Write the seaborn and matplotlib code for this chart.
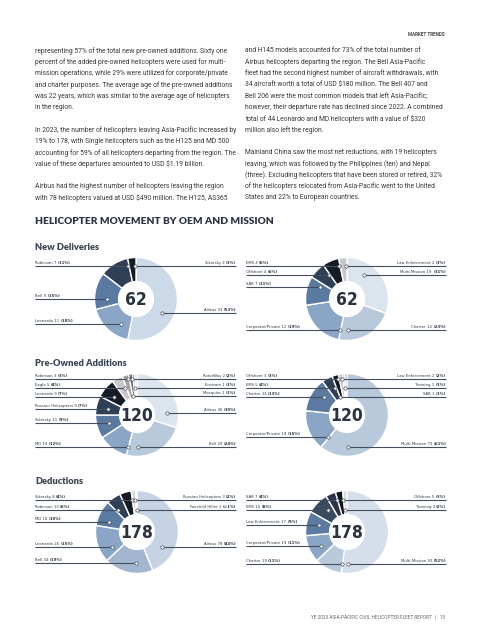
import numpy as np
import matplotlib
matplotlib.use("Agg")
import matplotlib.pyplot as plt
from matplotlib import font_manager
from matplotlib.font_manager import FontProperties
import seaborn as sns

# ---------------- data ----------------
nd_oem_cats = ["Airbus", "Leonardo", "Bell", "Robinson", "Sikorsky"]
nd_oem_vals = [33, 11, 9, 7, 2]
nd_oem_pct = ["53%", "18%", "15%", "11%", "3%"]

nd_mis_cats = ["Multi-Mission", "Charter", "Corporate/Private", "SAR", "Offshore", "EMS", "Law Enforcement"]
nd_mis_vals = [19, 14, 12, 7, 4, 4, 2]
nd_mis_pct = ["31%", "23%", "19%", "11%", "6%", "6%", "3%"]

po_oem_cats = ["Airbus", "Bell", "MD", "Sikorsky", "Russian Helicopters", "Leonardo", "Eagle",
               "Robinson", "RotorWay", "Enstrom", "Mosquito"]
po_oem_vals = [36, 29, 14, 11, 9, 9, 5, 3, 2, 1, 1]
po_oem_pct = ["30%", "24%", "12%", "9%", "7%", "7%", "4%", "3%", "2%", "1%", "1%"]

po_mis_cats = ["Multi-Mission", "Corporate/Private", "Charter", "EMS", "Offshore", "Law Enforcement", "Training", "SAR"]
po_mis_vals = [73, 19, 16, 5, 3, 2, 1, 1]
po_mis_pct = ["61%", "16%", "13%", "4%", "3%", "2%", "1%", "1%"]

de_oem_cats = ["Airbus", "Bell", "Leonardo", "MD", "Robinson", "Sikorsky", "Russian Helicopters", "Fairchild Hiller"]
de_oem_vals = [78, 34, 26, 18, 10, 8, 3, 1]
de_oem_pct = ["44%", "19%", "15%", "10%", "6%", "4%", "2%", "<1%"]

de_mis_cats = ["Multi-Mission", "Charter", "Corporate/Private", "Law Enforcement", "EMS", "SAR", "Offshore", "Training"]
de_mis_vals = [93, 19, 19, 17, 15, 7, 5, 3]
de_mis_pct = ["52%", "11%", "11%", "9%", "8%", "4%", "3%", "2%"]

left_par = [
    "representing 57% of the total new pre-owned additions. Sixty one",
    "percent of the added pre-owned helicopters were used for multi-",
    "mission operations, while 29% were utilized for corporate/private",
    "and charter purposes. The average age of the pre-owned additions",
    "was 22 years, which was similar to the average age of helicopters",
    "in the region.",
    "",
    "In 2023, the number of helicopters leaving Asia-Pacific increased by",
    "19% to 178, with Single helicopters such as the H125 and MD 500",
    "accounting for 59% of all helicopters departing from the region. The",
    "value of these departures amounted to USD $1.19 billion.",
    "",
    "Airbus had the highest number of helicopters leaving the region",
    "with 78 helicopters valued at USD $490 million. The H125, AS365",
]
right_par = [
    "and H145 models accounted for 73% of the total number of",
    "Airbus helicopters departing the region. The Bell Asia-Pacific",
    "fleet had the second highest number of aircraft withdrawals, with",
    "34 aircraft worth a total of USD $180 million. The Bell 407 and",
    "Bell 206 were the most common models that left Asia-Pacific;",
    "however, their departure rate has declined since 2022. A combined",
    "total of 44 Leonardo and MD helicopters with a value of $320",
    "million also left the region.",
    "",
    "Mainland China saw the most net reductions, with 19 helicopters",
    "leaving, which was followed by the Philippines (ten) and Nepal",
    "(three). Excluding helicopters that have been stored or retired, 32%",
    "of the helicopters relocated from Asia-Pacific went to the United",
    "States and 22% to European countries.",
]

# ---------------- style / layout ----------------
sns.set_theme(style="white")
BODY = "Roboto"
HEAD = "Lato"
plt.rcParams["font.family"] = [BODY, "DejaVu Sans"]


def find_condensed(bold=False):
    best = None
    for f in font_manager.fontManager.ttflist:
        nm = f.name.lower()
        fn = f.fname.lower()
        st = str(f.stretch).lower()
        narrow = ("narrow" in nm) or ("condensed" in nm) or ("condensed" in st) or ("narrow" in fn) \
            or ("condensed" in fn)
        if not narrow or f.style != "normal":
            continue
        if "oblique" in fn or "italic" in fn:
            continue
        w = f.weight if isinstance(f.weight, int) else (700 if "bold" in str(f.weight) else 400)
        if bold != (w >= 600):
            continue
        pri = 0 if "liberation" in nm else (1 if "dejavu" in nm else 2)
        if best is None or pri < best[0]:
            best = (pri, f.fname)
    if best is None:
        return FontProperties(family=BODY, weight="bold" if bold else "normal")
    return FontProperties(fname=best[1])


COND = find_condensed(False)
COND_B = find_condensed(True)

B = ["#dce4ee", "#b9c9dc", "#8aa5c5", "#5a7aa2", "#2f3f56", "#151c26"]
charts = [
    dict(cats=nd_oem_cats, vals=nd_oem_vals, pct=nd_oem_pct, c=(136, 299),
         colors=["#ccd9e8", B[2], B[3], B[4], B[5]],
         side="RLLLR", ly=[313, 324, 299, 266, 266], lx=(35, 236)),
    dict(cats=nd_mis_cats, vals=nd_mis_vals, pct=nd_mis_pct, c=(347, 299),
         colors=B + ["#c8c8c8"],
         side="RRLLLLR", ly=[275, 330, 330, 287, 275, 266, 266], lx=(246, 446)),
    dict(cats=po_oem_cats, vals=po_oem_vals, pct=po_oem_pct, c=(137, 415),
         colors=B + ["#c8c8c8", "#a3a3a3", "#707070", "#505050", "#bdbdbd"],
         side="RRLLLLLLRRR", ly=[413, 447, 447, 423, 409, 397, 388, 379, 379, 388, 396], lx=(35, 236)),
    dict(cats=po_mis_cats, vals=po_mis_vals, pct=po_mis_pct, c=(347, 415),
         colors=B[1:] + ["#c8c8c8", "#9c9c9c", "#6b6b6b"],
         side="RLLLLRRR", ly=[447, 437, 397, 388, 379, 379, 388, 397], lx=(246, 446)),
    dict(cats=de_oem_cats, vals=de_oem_vals, pct=de_oem_pct, c=(137, 532),
         colors=["#c5d3e4", "#a3b6cf", B[2], B[3], B[4], B[5], "#d8d8d8", "#a0a0a0"],
         side="RLLLLLRR", ly=[547, 563, 547, 522, 510, 500, 500, 510], lx=(35, 236)),
    dict(cats=de_mis_cats, vals=de_mis_vals, pct=de_mis_pct, c=(347, 532),
         colors=["#d5dfeb", B[1], B[2], B[3], "#3a4a62", "#2a3548", "#11161e", "#dcdcdc"],
         side="RLLLLLRR", ly=[564, 564, 546, 525, 510, 500, 500, 510], lx=(246, 446)),
]
R = 41.5
HOLE = 0.42
W, H = 480, 640

fig = plt.figure(figsize=(4.8, 6.4), dpi=100)
fig.patch.set_facecolor("white")
renderer = fig.canvas.get_renderer()

# label font size: fit the reference width of a known label (~52 px)
_probe = fig.text(0, 0, "Russian Helicopters 9 ", fontproperties=COND, fontsize=10)
_probe2 = fig.text(0, 0, "(7%)", fontproperties=COND_B, fontsize=10)
_w = _probe.get_window_extent(renderer).width + _probe2.get_window_extent(renderer).width
_probe.remove()
_probe2.remove()
LFS = 10 * 52.0 / _w

for ch in charts:
    cx, cy = ch["c"]
    ax = fig.add_axes([(cx - R) / W, 1 - (cy + R) / H, 2 * R / W, 2 * R / H])
    ax.pie(ch["vals"], colors=ch["colors"], startangle=90, counterclock=False, radius=1,
           wedgeprops=dict(width=1 - HOLE, edgecolor="white", linewidth=1.0))
    ax.set_xlim(-1, 1)
    ax.set_ylim(-1, 1)
    ax.set_aspect("equal")
    ax.axis("off")

ov = fig.add_axes([0, 0, 1, 1], facecolor="none")
ov.set_xlim(0, W)
ov.set_ylim(H, 0)
ov.axis("off")

# body text
TXT = "#3a3a3a"
def par(lines, x):
    yy = 51.0
    for ln in lines:
        if ln:
            ov.text(x, yy, ln, fontsize=4.85, color=TXT, va="center", ha="left", family=BODY)
        yy += 11.3
par(left_par, 35)
par(right_par, 245)

ov.text(445, 34, "MARKET TRENDS", fontsize=3.3, color="#444444", ha="right", va="center",
        family=BODY, weight="bold")
ov.text(35, 222, "HELICOPTER MOVEMENT BY OEM AND MISSION", fontsize=7.3, color="#2b3546",
        ha="left", va="center", family=HEAD, weight="heavy")
for t, y in [("New Deliveries", 248), ("Pre-Owned Additions", 364), ("Deductions", 481)]:
    ov.text(35, y, t, fontsize=6.7, color="#3a4454", ha="left", va="center", family=HEAD, weight="heavy")
ov.text(445, 617, "YE 2023 ASIA-PACIFIC CIVIL HELICOPTER FLEET REPORT   |   13", fontsize=3.4,
        color="#666666", ha="right", va="center", family=BODY)

LINE = "#454e5c"
LBL = "#2f3744"
r_in = R * HOLE
for ch in charts:
    cx, cy = ch["c"]
    vals = np.array(ch["vals"], float)
    cum = np.concatenate([[0], np.cumsum(vals)]) / vals.sum() * 360
    ov.text(cx, cy + 1, str(int(vals.sum())), fontproperties=COND_B, fontsize=12.5, color="#2a3240",
            ha="center", va="center")
    xs = np.arange(cx - R, cx + R, 0.25)
    for i, (cat, v, p) in enumerate(zip(ch["cats"], ch["vals"], ch["pct"])):
        a0, a1 = cum[i], cum[i + 1]
        mid = (a0 + a1) / 2
        y = ch["ly"][i]
        dx = xs - cx
        dy = cy - y
        rho = np.hypot(dx, dy)
        ang = np.degrees(np.arctan2(dx, dy)) % 360
        ok = (rho >= r_in + 2) & (rho <= R - 2)
        marg = min(1.5, (a1 - a0) / 4)
        inside = (ang >= a0 + marg) & (ang <= a1 - marg)
        adist = np.abs((ang - mid + 180) % 360 - 180)
        rmid = (r_in + R) / 2
        score = np.where(inside, 0, 1000 + adist) + np.abs(rho - rmid) + 0.02 * adist
        score = np.where(ok, score, 1e9)
        k = int(np.argmin(score))
        px = xs[k]
        main = f"{cat} {v} "
        pstr = f"({p})"
        if ch["side"][i] == "L":
            x0 = ch["lx"][0]
            ov.plot([x0, px], [y, y], color=LINE, lw=0.8, solid_capstyle="butt", zorder=5)
            t = ov.text(x0, y - 1.0, main, fontproperties=COND, fontsize=LFS, color=LBL,
                        ha="left", va="bottom")
            ov.annotate(pstr, xycoords=t, xy=(1, 0), va="bottom", ha="left",
                        fontproperties=COND_B, fontsize=LFS, color=LBL)
        else:
            x0 = ch["lx"][1]
            ov.plot([px, x0], [y, y], color=LINE, lw=0.8, solid_capstyle="butt", zorder=5)
            t = ov.text(x0, y - 1.0, pstr, fontproperties=COND_B, fontsize=LFS, color=LBL,
                        ha="right", va="bottom")
            ov.annotate(main, xycoords=t, xy=(0, 0), va="bottom", ha="right",
                        fontproperties=COND, fontsize=LFS, color=LBL)
        ov.plot([px], [y], marker="o", ms=2.4, mfc="white", mec=LINE, mew=0.5, zorder=6)

fig.savefig("out.png", dpi=100, facecolor="white")
